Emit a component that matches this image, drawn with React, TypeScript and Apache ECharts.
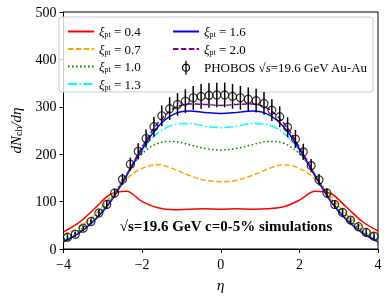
import React, { useEffect, useRef } from "react";
import * as echarts from "echarts";

const etaGrid = [-4, -3.6, -3.2, -2.8, -2.4, -2.0, -1.6, -1.2, -0.8, -0.4, 0, 0.4, 0.8, 1.2, 1.6, 2.0, 2.4, 2.8, 3.2, 3.6, 4];
const xi04 = [36, 56, 86, 116, 122, 100, 87, 83, 84, 85, 84, 85, 84, 85, 89, 103, 122, 117, 88, 58, 38];
const xi07 = [29, 46, 73, 111, 148, 170, 178, 169, 155, 145, 142, 145, 155, 169, 178, 170, 148, 111, 73, 46, 29];
const xi10 = [21, 39, 68, 106, 157, 201, 223, 227, 220, 212, 209, 212, 220, 227, 223, 201, 157, 106, 68, 39, 21];
const xi13 = [18, 36, 64, 103, 156, 208, 245, 262, 265, 259, 256, 259, 265, 262, 245, 208, 156, 103, 64, 36, 18];
const xi16 = [15, 34, 61, 100, 154, 211, 258, 284, 291, 288, 286, 288, 291, 284, 258, 211, 154, 100, 61, 34, 15];
const xi20 = [15, 34, 62, 101, 156, 215, 266, 296, 306, 305, 303, 305, 306, 296, 266, 215, 156, 101, 62, 34, 15];

const phobosEta = [-3.9, -3.7, -3.5, -3.3, -3.1, -2.9, -2.7, -2.5, -2.3, -2.1, -1.9, -1.7, -1.5, -1.3, -1.1, -0.9, -0.7, -0.5, -0.3, -0.1,
  0.1, 0.3, 0.5, 0.7, 0.9, 1.1, 1.3, 1.5, 1.7, 1.9, 2.1, 2.3, 2.5, 2.7, 2.9, 3.1, 3.3, 3.5, 3.7, 3.9];
const phobosVal = [25, 31, 44, 58, 76, 94, 118, 147, 179, 206, 233, 258, 281, 296, 305, 312, 319, 322, 324, 325,
  325, 322, 319, 316, 313, 307, 293, 279, 257, 232, 205, 176, 146, 118, 94, 77, 61, 47, 35, 27];
const phobosErr = [6, 6, 6, 6, 7, 8, 10, 12, 14, 17, 19, 21, 22, 24, 24, 25, 25, 26, 26, 26,
  26, 26, 25, 25, 25, 24, 23, 22, 21, 19, 17, 14, 12, 10, 8, 7, 6, 6, 6, 6];

const xiLabels = ["0.4", "0.7", "1.0", "1.3", "1.6", "2.0"];
const phobosName = "PHOBOS √s=19.6 GeV Au-Au";
const annotation = "√s=19.6 GeV c=0-5% simulations";

const FONT = "Liberation Serif";

export default function App() {
  const ref = useRef<HTMLDivElement>(null);
  useEffect(() => {
    const chart = echarts.init(ref.current!, null, { renderer: "svg" });
    const curves = [xi04, xi07, xi10, xi13, xi16, xi20];
    const colors = ["#ff0000", "#ffa500", "#008000", "#00ffff", "#0000ff", "#800080"];
    const dashes: any[] = ["solid", [5.5, 2.4], [1.5, 2.5], [9, 2.4, 1.5, 2.4], "solid", [5.5, 2.4]];
    const lineSeries = curves.map((c, k) => ({
      name: xiLabels[k],
      type: "line",
      data: etaGrid.map((e, i) => [e, c[i]]),
      smooth: 0.35,
      symbol: "none",
      lineStyle: { color: colors[k], width: 1.5, type: dashes[k] },
      itemStyle: { color: colors[k] },
      z: 2,
    }));
    const errData = phobosEta.map((e, i) => [e, phobosVal[i], phobosErr[i]]);
    const rich = {
      x: { fontFamily: FONT, fontSize: 13, fontStyle: "italic", lineHeight: 14, color: "#000" },
      a: { fontFamily: FONT, fontSize: 13, lineHeight: 14, color: "#000" },
      s: { fontFamily: FONT, fontSize: 8, lineHeight: 8, verticalAlign: "bottom", color: "#000" },
    };
    const fmt = (name: string) =>
      name === phobosName ? `{a|PHOBOS }{x|√s}{a|=19.6 GeV Au-Au}` : `{x|ξ}{s|pt}{a| = ${name}}`;
    const legendBase = {
      orient: "vertical",
      itemWidth: 26,
      itemHeight: 14,
      itemGap: 4,
      top: 20,
      formatter: fmt,
      textStyle: { rich, fontFamily: FONT, fontSize: 13 },
      itemStyle: { opacity: 0 },
      selectedMode: false,
    };
    const option: any = {
      animation: false,
      grid: { left: 52, right: 10, top: 12, bottom: 43, show: true, borderColor: "#000", borderWidth: 1 },
      xAxis: {
        type: "value", min: -4, max: 4, interval: 2,
        axisLine: { show: true, onZero: false, lineStyle: { color: "#000", width: 1 } },
        axisTick: { show: true, length: 4, lineStyle: { color: "#000" } },
        splitLine: { show: false },
        axisLabel: { color: "#000", fontFamily: FONT, fontSize: 14, margin: 8, formatter: (v: number) => String(v).replace("-", "\u2212") },
        name: "η", nameLocation: "middle", nameGap: 28,
        nameTextStyle: { color: "#000", fontFamily: FONT, fontSize: 15, fontStyle: "italic" },
      },
      yAxis: {
        type: "value", min: 0, max: 500, interval: 100,
        axisLine: { show: true, onZero: false, lineStyle: { color: "#000", width: 1 } },
        axisTick: { show: true, length: 4, lineStyle: { color: "#000" } },
        splitLine: { show: false },
        axisLabel: { color: "#000", fontFamily: FONT, fontSize: 14, margin: 7 },
        name: "{i|dN}{s|ch}{i|/dη}", nameLocation: "middle", nameGap: 40, nameRotate: 90,
        nameTextStyle: {
          rich: {
            i: { fontFamily: FONT, fontSize: 15, fontStyle: "italic", lineHeight: 16, color: "#000" },
            s: { fontFamily: FONT, fontSize: 10, lineHeight: 10, verticalAlign: "bottom", color: "#000" },
          },
        },
      },
      legend: [
        { ...legendBase, left: 62, data: xiLabels.slice(0, 4) },
        {
          ...legendBase, left: 167,
          data: [
            xiLabels[4], xiLabels[5],
            {
              name: phobosName,
              icon: "path://M4,0 L4,16 M4,4 A4,4 0 1,1 4,12 A4,4 0 1,1 4,4 Z",
              itemStyle: { opacity: 1, color: "rgba(0,0,0,0)", borderColor: "#000", borderWidth: 1.3 },
            },
          ],
        },
      ],
      graphic: [
        {
          type: "rect", z: 3,
          shape: { x: 59, y: 17, width: 314, height: 75, r: 3 },
          style: { fill: "rgba(255,255,255,0.8)", stroke: "#cccccc", lineWidth: 1 },
        },
        {
          type: "text", z: 5, x: 226, y: 226,
          style: { text: annotation, font: `bold 15px '${FONT}'`, fill: "#000", textAlign: "center", textVerticalAlign: "middle" },
        },
      ],
      series: [
        ...lineSeries,
        {
          name: "errbars",
          type: "custom",
          z: 3,
          data: errData,
          renderItem: (params: any, api: any) => {
            const x = api.value(0), y = api.value(1), e = api.value(2);
            const p1 = api.coord([x, y - e]);
            const p2 = api.coord([x, y + e]);
            return {
              type: "line",
              shape: { x1: p1[0], y1: p1[1], x2: p2[0], y2: p2[1] },
              style: { stroke: "#000", lineWidth: 1.5 },
            };
          },
        },
        {
          name: phobosName,
          type: "scatter",
          z: 4,
          data: phobosEta.map((e, i) => [e, phobosVal[i]]),
          symbol: "circle",
          symbolSize: 8,
          itemStyle: { color: "rgba(0,0,0,0)", borderColor: "#000", borderWidth: 1.2 },
        },
      ],
    };
    chart.setOption(option);
    return () => chart.dispose();
  }, []);
  return <div ref={ref} style={{ position: "fixed", left: 0, top: 0, width: 388, height: 297 }} />;
}
